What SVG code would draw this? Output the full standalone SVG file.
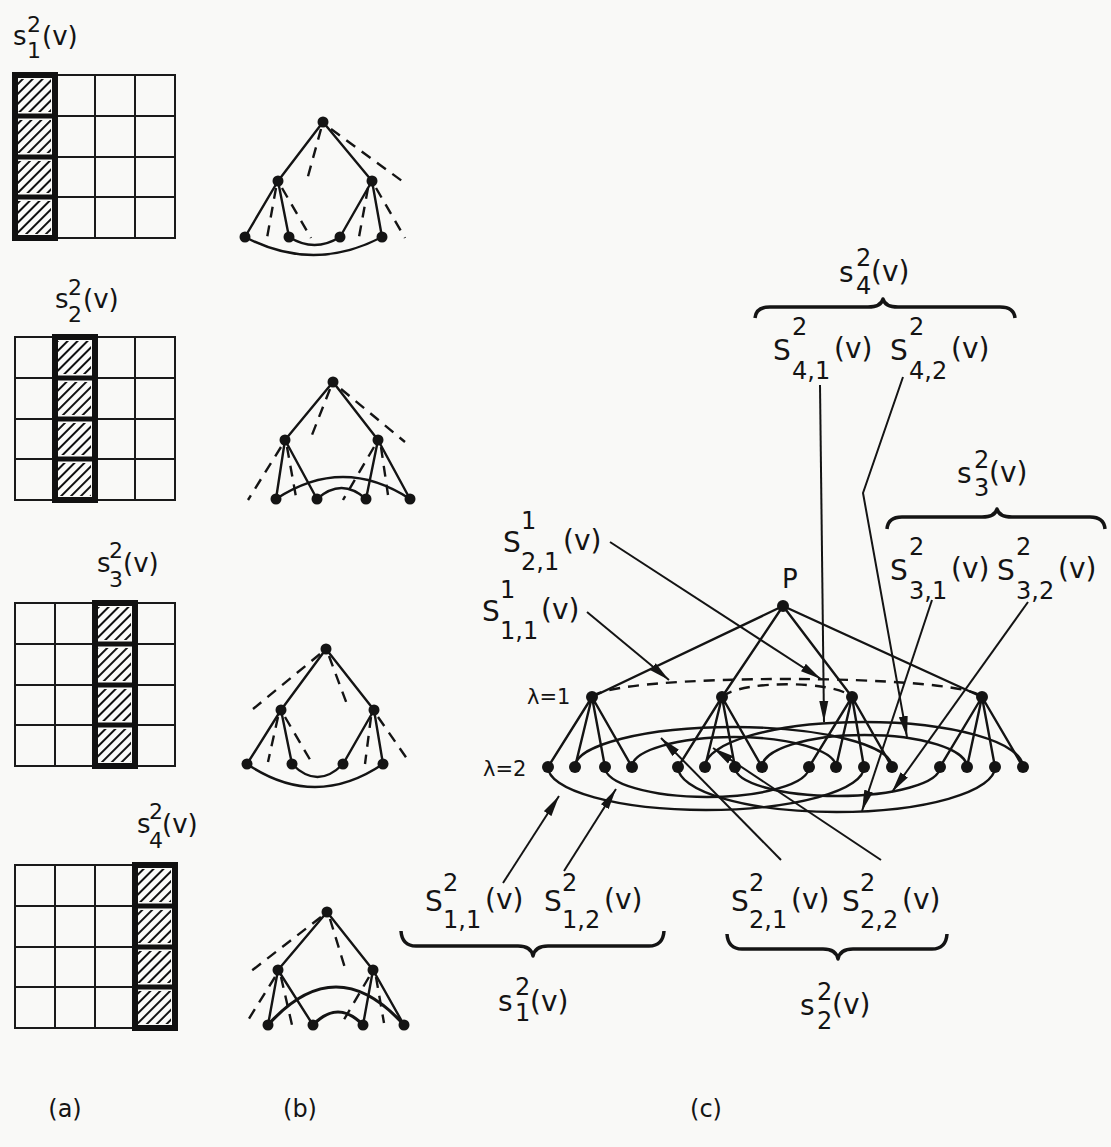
<svg xmlns="http://www.w3.org/2000/svg" width="1111" height="1147" viewBox="0 0 1111 1147">
<defs>
<style>
.ln{stroke:#141414;stroke-width:2.4;fill:none;stroke-linecap:round}
.lt{stroke:#141414;stroke-width:3.2;fill:none;stroke-linecap:round}
.ds{stroke:#141414;stroke-width:2.4;fill:none;stroke-dasharray:11 8}
.nd{fill:#141414}
.t{font-family:"DejaVu Sans","Liberation Sans",sans-serif;font-size:26px;fill:#141414}
.c{font-size:28px}
.s{font-size:22px}
.s2{font-size:24px}
.lam{font-family:"DejaVu Sans","Liberation Sans",sans-serif;font-size:21px;fill:#141414}
.br{stroke:#141414;stroke-width:3.5;fill:none;stroke-linejoin:round}
.ar{stroke:#141414;stroke-width:2;fill:none;marker-end:url(#ah)}
.g{stroke:#1a1a1a;stroke-width:2;fill:none}
.hc{stroke:#111;stroke-width:6;fill:none}
.hd{stroke:#111;stroke-width:5}
.cap{font-family:"DejaVu Sans","Liberation Sans",sans-serif;font-size:24px;fill:#141414}
</style>
<pattern id="hatch" patternUnits="userSpaceOnUse" width="7" height="7" patternTransform="rotate(45)">
<rect width="7" height="7" fill="#fbfbf9"/>
<line x1="2" y1="0" x2="2" y2="7" stroke="#111" stroke-width="2"/>
</pattern>
<marker id="ah" markerUnits="userSpaceOnUse" markerWidth="22" markerHeight="10" refX="21" refY="5" orient="auto">
<path d="M0,0.5 L21,5 L0,9.5 z" fill="#141414"/>
</marker>
</defs>
<rect width="1111" height="1147" fill="#f9f9f7"/>

<!-- (a) grids -->
<g id="grid1">
<text class="t"><tspan x="13" y="45">s</tspan><tspan class="s" x="27" y="32">2</tspan><tspan class="s" x="27" y="58">1</tspan><tspan x="42" y="45">(v)</tspan></text>
<rect x="18" y="79" width="33" height="33" fill="url(#hatch)"/>
<rect x="18" y="120" width="33" height="33" fill="url(#hatch)"/>
<rect x="18" y="161" width="33" height="32" fill="url(#hatch)"/>
<rect x="18" y="201" width="33" height="33" fill="url(#hatch)"/>
<rect x="15" y="75" width="160" height="163" class="g"/>
<path class="g" d="M55,75V238M95,75V238M135,75V238M15,116H175M15,157H175M15,197H175"/>
<rect x="15" y="75" width="40" height="163" class="hc"/>
<path class="hd" d="M15,116H55M15,157H55M15,197H55"/>
</g>
<g id="grid2">
<text class="t"><tspan x="55" y="308">s</tspan><tspan class="s" x="68" y="295">2</tspan><tspan class="s" x="68" y="322">2</tspan><tspan x="83" y="308">(v)</tspan></text>
<rect x="58" y="341" width="33" height="33" fill="url(#hatch)"/>
<rect x="58" y="382" width="33" height="33" fill="url(#hatch)"/>
<rect x="58" y="423" width="33" height="32" fill="url(#hatch)"/>
<rect x="58" y="463" width="33" height="33" fill="url(#hatch)"/>
<rect x="15" y="337" width="160" height="163" class="g"/>
<path class="g" d="M55,337V500M95,337V500M135,337V500M15,378H175M15,419H175M15,459H175"/>
<rect x="55" y="337" width="40" height="163" class="hc"/>
<path class="hd" d="M55,378H95M55,419H95M55,459H95"/>
</g>
<g id="grid3">
<text class="t"><tspan x="97" y="572">s</tspan><tspan class="s" x="109" y="558">2</tspan><tspan class="s" x="109" y="587">3</tspan><tspan x="123" y="572">(v)</tspan></text>
<rect x="98" y="607" width="33" height="33" fill="url(#hatch)"/>
<rect x="98" y="648" width="33" height="33" fill="url(#hatch)"/>
<rect x="98" y="689" width="33" height="32" fill="url(#hatch)"/>
<rect x="98" y="729" width="33" height="33" fill="url(#hatch)"/>
<rect x="15" y="603" width="160" height="163" class="g"/>
<path class="g" d="M55,603V766M95,603V766M135,603V766M15,644H175M15,685H175M15,725H175"/>
<rect x="95" y="603" width="40" height="163" class="hc"/>
<path class="hd" d="M95,644H135M95,685H135M95,725H135"/>
</g>
<g id="grid4">
<text class="t"><tspan x="137" y="833">s</tspan><tspan class="s" x="149" y="819">2</tspan><tspan class="s" x="149" y="848">4</tspan><tspan x="162" y="833">(v)</tspan></text>
<rect x="138" y="869" width="33" height="33" fill="url(#hatch)"/>
<rect x="138" y="910" width="33" height="33" fill="url(#hatch)"/>
<rect x="138" y="951" width="33" height="32" fill="url(#hatch)"/>
<rect x="138" y="991" width="33" height="33" fill="url(#hatch)"/>
<rect x="15" y="865" width="160" height="163" class="g"/>
<path class="g" d="M55,865V1028M95,865V1028M135,865V1028M15,906H175M15,947H175M15,987H175"/>
<rect x="135" y="865" width="40" height="163" class="hc"/>
<path class="hd" d="M135,906H175M135,947H175M135,987H175"/>
</g>

<!-- (b) trees -->
<g id="tree-b1">
<path class="ln" d="M323,122L278,181M323,122L372,181M278,181L245,237M278,181L289,237M372,181L340,237M372,181L382,237"/>
<path class="ds" d="M321,129L307,180M331,129L402,181M276,188L267,238M282,188L311,238M368,188L359,237M376,188L405,238"/>
<path class="ln" d="M245,237Q313.5,273 382,237M289,237Q314.5,253 340,237"/>
<g class="nd"><circle cx="323" cy="122" r="5.5"/><circle cx="278" cy="181" r="5.5"/><circle cx="372" cy="181" r="5.5"/><circle cx="245" cy="237" r="5.5"/><circle cx="289" cy="237" r="5.5"/><circle cx="340" cy="237" r="5.5"/><circle cx="382" cy="237" r="5.5"/></g>
</g>
<g id="tree-b2">
<path class="ln" d="M333,382L285,440M333,382L378,440M285,440L276,499M285,440L317,499M378,440L366,499M378,440L410,499"/>
<path class="ds" d="M330,389L310,440M341,389L405,442M281,447L248,500M287,447L296,497M374,447L343,500M381,447L388,495"/>
<path class="ln" d="M276,499Q343,455 410,499M317,499Q341.5,477 366,499"/>
<g class="nd"><circle cx="333" cy="382" r="5.5"/><circle cx="285" cy="440" r="5.5"/><circle cx="378" cy="440" r="5.5"/><circle cx="276" cy="499" r="5.5"/><circle cx="317" cy="499" r="5.5"/><circle cx="366" cy="499" r="5.5"/><circle cx="410" cy="499" r="5.5"/></g>
</g>
<g id="tree-b3">
<path class="ln" d="M326,649L281,710M326,649L374,710M281,710L247,764M281,710L292,764M374,710L343,764M374,710L383,764"/>
<path class="ds" d="M320,654L253,709M329,656L348,707M278,717L268,762M285,717L312,763M371,717L365,764M378,717L410,763"/>
<path class="ln" d="M247,764Q315,810 383,764M292,764Q317.5,790 343,764"/>
<g class="nd"><circle cx="326" cy="649" r="5.5"/><circle cx="281" cy="710" r="5.5"/><circle cx="374" cy="710" r="5.5"/><circle cx="247" cy="764" r="5.5"/><circle cx="292" cy="764" r="5.5"/><circle cx="343" cy="764" r="5.5"/><circle cx="383" cy="764" r="5.5"/></g>
</g>
<g id="tree-b4">
<path class="ln" d="M327,912L278,970M327,912L373,970M278,970L268,1025M278,970L313,1025M373,970L363,1025M373,970L404,1025"/>
<path class="ds" d="M321,917L250,972M330,919L345,968M275,977L245,1025M281,977L292,1025M369,977L342,1023M376,977L384,1023"/>
<path class="lt" d="M268,1025Q336,949 404,1025M313,1025Q338,999 363,1025"/>
<g class="nd"><circle cx="327" cy="912" r="5.5"/><circle cx="278" cy="970" r="5.5"/><circle cx="373" cy="970" r="5.5"/><circle cx="268" cy="1025" r="5.5"/><circle cx="313" cy="1025" r="5.5"/><circle cx="363" cy="1025" r="5.5"/><circle cx="404" cy="1025" r="5.5"/></g>
</g>

<!-- (c) connectors -->
<g id="connectors">
<path class="ln" d="M783,606L592,697M783,606L722,697M783,606L852,697M783,606L982,697"/>
<path class="ln" d="M592,697L548,767M592,697L575,767M592,697L605,767M592,697L632,767"/>
<path class="ln" d="M722,697L678,767M722,697L705,767M722,697L735,767M722,697L762,767"/>
<path class="ln" d="M852,697L809,767M852,697L836,767M852,697L864,767M852,697L892,767"/>
<path class="ln" d="M982,697L940,767M982,697L967,767M982,697L995,767M982,697L1023,767"/>
<path class="ds" d="M592,697C612,673 962,673 982,697"/>
<path class="ds" d="M722,697C740,680 834,680 852,697"/>
<path class="ln" d="M548,767A158,43 0 0 0 864,767"/>
<path class="ln" d="M605,767A102,30 0 0 0 809,767"/>
<path class="ln" d="M678,767A158.5,45 0 0 0 995,767"/>
<path class="ln" d="M735,767A102.5,29 0 0 0 940,767"/>
<path class="ln" d="M575,767A158.5,40 0 0 1 892,767"/>
<path class="ln" d="M632,767A102,30 0 0 1 836,767"/>
<path class="ln" d="M705,767A159,45 0 0 1 1023,767"/>
<path class="ln" d="M762,767A102.5,32 0 0 1 967,767"/>
<path class="ar" d="M587,612L669,680"/>
<path class="ar" d="M610,542L821,679"/>
<path class="ar" d="M820,385L824,722"/>
<path class="ar" d="M903,377L863,493L907,737"/>
<path class="ar" d="M932,600L862,811"/>
<path class="ar" d="M1028,602L892,792"/>
<path class="ar" d="M503,883L559,796"/>
<path class="ar" d="M564,871L616,789"/>
<path class="ar" d="M781,860L661,738"/>
<path class="ar" d="M881,860L713,748"/>
<path class="br" d="M755,318Q756,307 770,307L868,307Q881,307 883,299Q885,307 898,307L1000,307Q1014,307 1015,318"/>
<path class="br" d="M887,529Q888,517 902,517L982,517Q995,517 997,509Q999,517 1012,517L1090,517Q1104,517 1105,529"/>
<path class="br" d="M401,931Q402,946 416,946L518,946Q531,946 533,956Q535,946 548,946L649,946Q663,946 664,931"/>
<path class="br" d="M727,934Q728,949 742,949L823,949Q836,949 838,959Q840,949 853,949L932,949Q946,949 947,934"/>
</g>

<!-- (c) nodes -->
<g id="c-root"><circle class="nd" cx="783" cy="606" r="6"/><text class="t" x="782" y="588" font-size="24">P</text></g>
<g id="c-n1"><circle class="nd" cx="592" cy="697" r="6"/></g>
<g id="c-n2"><circle class="nd" cx="722" cy="697" r="6"/></g>
<g id="c-n3"><circle class="nd" cx="852" cy="697" r="6"/></g>
<g id="c-n4"><circle class="nd" cx="982" cy="697" r="6"/></g>
<g id="c-leaves1" class="nd"><circle cx="548" cy="767" r="6"/><circle cx="575" cy="767" r="6"/><circle cx="605" cy="767" r="6"/><circle cx="632" cy="767" r="6"/></g>
<g id="c-leaves2" class="nd"><circle cx="678" cy="767" r="6"/><circle cx="705" cy="767" r="6"/><circle cx="735" cy="767" r="6"/><circle cx="762" cy="767" r="6"/></g>
<g id="c-leaves3" class="nd"><circle cx="809" cy="767" r="6"/><circle cx="836" cy="767" r="6"/><circle cx="864" cy="767" r="6"/><circle cx="892" cy="767" r="6"/></g>
<g id="c-leaves4" class="nd"><circle cx="940" cy="767" r="6"/><circle cx="967" cy="767" r="6"/><circle cx="995" cy="767" r="6"/><circle cx="1023" cy="767" r="6"/></g>
<text class="lam" x="527" y="704">λ=1</text>
<text class="lam" x="483" y="776">λ=2</text>

<!-- (c) labels -->
<g id="labels">
<text class="t"><tspan class="c" x="839" y="282">s</tspan><tspan class="s2" x="856" y="266">2</tspan><tspan class="s2" x="856" y="294">4</tspan><tspan class="c" x="871" y="281">(v)</tspan></text>
<text class="t c"><tspan x="773" y="360">S</tspan><tspan class="s2" x="792" y="335">2</tspan><tspan class="s2" x="792" y="379">4,1</tspan><tspan x="834" y="358">(v)</tspan></text>
<text class="t c"><tspan x="890" y="360">S</tspan><tspan class="s2" x="909" y="335">2</tspan><tspan class="s2" x="909" y="379">4,2</tspan><tspan x="951" y="358">(v)</tspan></text>
<text class="t"><tspan class="c" x="957" y="483">s</tspan><tspan class="s2" x="974" y="468">2</tspan><tspan class="s2" x="974" y="496">3</tspan><tspan class="c" x="989" y="482">(v)</tspan></text>
<text class="t c"><tspan x="890" y="580">S</tspan><tspan class="s2" x="909" y="555">2</tspan><tspan class="s2" x="909" y="599">3,1</tspan><tspan x="951" y="578">(v)</tspan></text>
<text class="t c"><tspan x="997" y="580">S</tspan><tspan class="s2" x="1016" y="555">2</tspan><tspan class="s2" x="1016" y="599">3,2</tspan><tspan x="1058" y="578">(v)</tspan></text>
<text class="t c"><tspan x="503" y="552">S</tspan><tspan class="s2" x="521" y="529">1</tspan><tspan class="s2" x="521" y="570">2,1</tspan><tspan x="563" y="550">(v)</tspan></text>
<text class="t c"><tspan x="482" y="621">S</tspan><tspan class="s2" x="500" y="598">1</tspan><tspan class="s2" x="500" y="639">1,1</tspan><tspan x="541" y="619">(v)</tspan></text>
<text class="t c"><tspan x="425" y="911">S</tspan><tspan class="s2" x="443" y="891">2</tspan><tspan class="s2" x="443" y="928">1,1</tspan><tspan x="485" y="909">(v)</tspan></text>
<text class="t c"><tspan x="544" y="911">S</tspan><tspan class="s2" x="562" y="891">2</tspan><tspan class="s2" x="562" y="928">1,2</tspan><tspan x="604" y="909">(v)</tspan></text>
<text class="t c"><tspan x="731" y="911">S</tspan><tspan class="s2" x="749" y="891">2</tspan><tspan class="s2" x="749" y="928">2,1</tspan><tspan x="791" y="909">(v)</tspan></text>
<text class="t c"><tspan x="842" y="911">S</tspan><tspan class="s2" x="860" y="891">2</tspan><tspan class="s2" x="860" y="928">2,2</tspan><tspan x="902" y="909">(v)</tspan></text>
<text class="t"><tspan class="c" x="498" y="1011">s</tspan><tspan class="s2" x="515" y="995">2</tspan><tspan class="s2" x="515" y="1021">1</tspan><tspan class="c" x="530" y="1011">(v)</tspan></text>
<text class="t"><tspan class="c" x="800" y="1015">s</tspan><tspan class="s2" x="817" y="1000">2</tspan><tspan class="s2" x="817" y="1029">2</tspan><tspan class="c" x="832" y="1014">(v)</tspan></text>
</g>

<!-- captions -->
<text class="cap" x="65" y="1117" text-anchor="middle">(a)</text>
<text class="cap" x="300" y="1117" text-anchor="middle">(b)</text>
<text class="cap" x="706" y="1117" text-anchor="middle">(c)</text>
</svg>
